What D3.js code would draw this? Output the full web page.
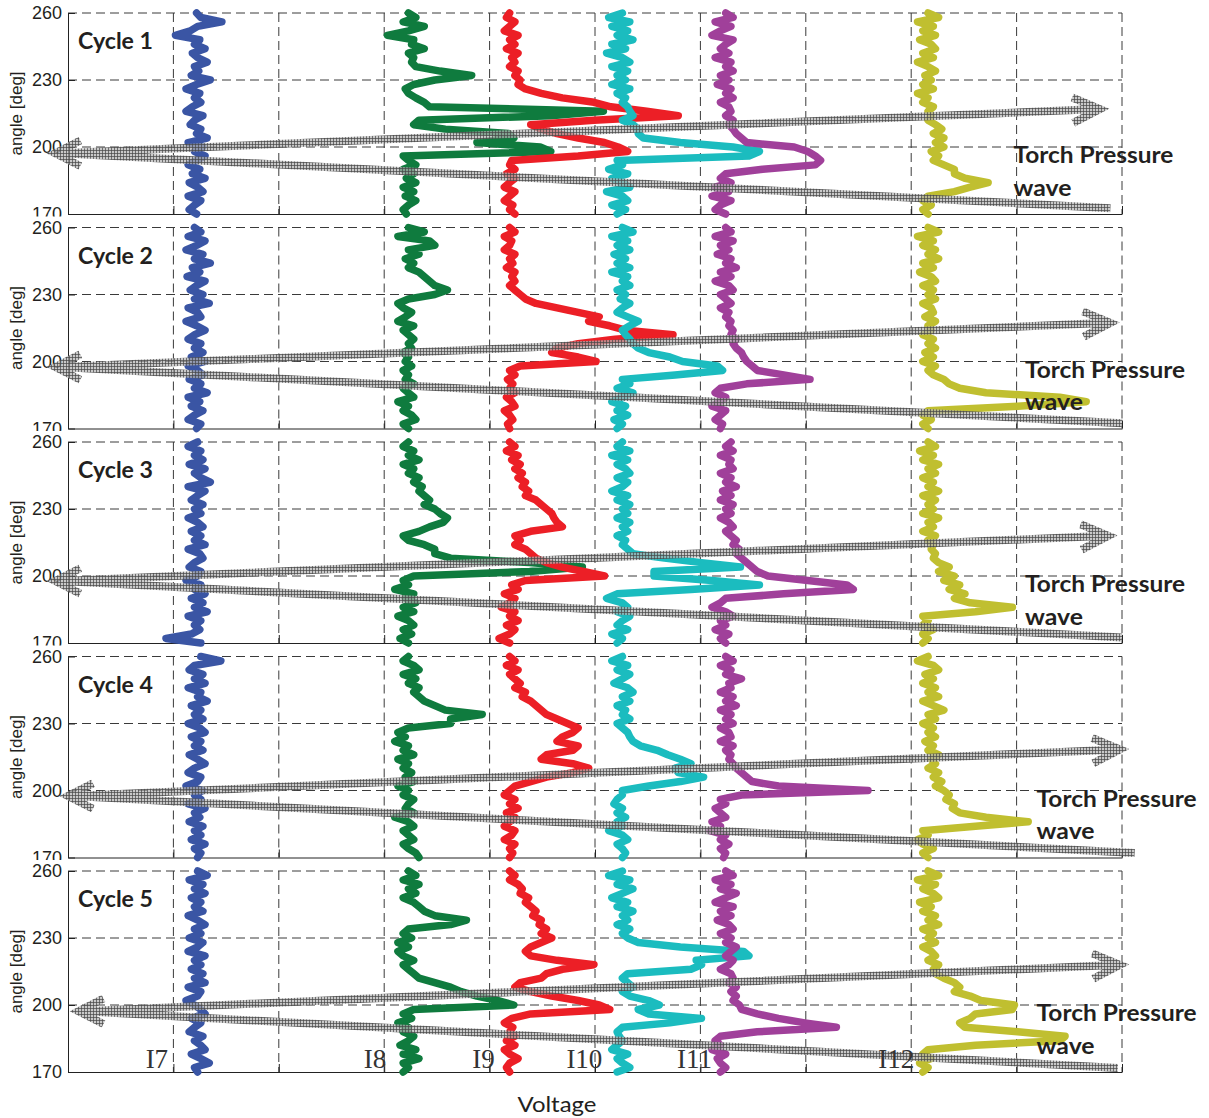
<!DOCTYPE html>
<html>
<head>
<meta charset="utf-8">
<script src="https://cdn.jsdelivr.net/npm/d3@7"></script>
<style>
  html, body { margin: 0; padding: 0; background: #fff; }
  svg { display: block; }
</style>
</head>
<body>
<svg id="chart" width="1209" height="1118"></svg>
<script>
// ---------------------------------------------------------------
// Data
// ---------------------------------------------------------------
// Crank-angle grid shared by every trace (deg), from 260 down to 170
const angles = d3.range(260, 169, -2);

const cycleNames = ["Cycle 1", "Cycle 2", "Cycle 3", "Cycle 4", "Cycle 5"];
const channelNames = ["I7", "I8", "I9", "I10", "I11", "I12"];
const channelColors = ["#3a55a4", "#0f7b3e", "#ec1f26", "#1bbcbf", "#a0409a", "#c0bf30"];
// voltage offset of each ion-current channel (traces are stacked side by side)
const channelOffset = [1.20, 3.18, 4.19, 5.21, 6.19, 8.11];
const yTicks = [170, 200, 230, 260];
const xGridValues = [0, 1, 2, 3, 4, 5, 6, 7, 8, 9, 10];

// Voltage signal per channel, one row per cycle, sampled on `angles`
const voltsI7 = [
  [0.02, 0.06, 0.26, 0.03, -0.04, -0.18, 0.05, 0.00, 0.10, -0.02,
   0.03, 0.12, 0.00, 0.04, -0.03, 0.15, 0.02, -0.08, 0.05, 0.00,
   0.06, -0.02, -0.08, 0.08, 0.00, -0.04, 0.06, 0.02, 0.12, -0.06,
   0.08, 0.00, 0.10, 0.02, -0.06, 0.05, -0.02, 0.10, -0.05, 0.03,
   0.08, -0.06, 0.06, 0.00, -0.05, 0.02],
  [0.00, 0.06, -0.06, 0.10, 0.02, -0.08, 0.08, 0.00, 0.15, -0.02,
   0.05, -0.07, 0.10, 0.02, -0.04, 0.08, 0.00, 0.14, -0.06, 0.03,
   0.06, -0.08, 0.02, 0.10, 0.00, -0.06, 0.06, 0.00, 0.08, -0.03,
   0.10, -0.06, 0.03, 0.08, -0.05, 0.06, 0.00, 0.12, -0.06, 0.05,
   -0.03, 0.08, 0.00, -0.06, 0.06, 0.02],
  [0.03, -0.06, 0.06, 0.00, 0.08, -0.05, 0.10, 0.00, 0.06, 0.15,
   -0.06, 0.10, 0.03, -0.03, 0.08, 0.00, 0.06, -0.06, 0.03, 0.08,
   -0.03, 0.06, 0.00, 0.10, -0.06, 0.05, 0.08, 0.00, -0.05, 0.06,
   0.03, -0.08, 0.06, 0.00, 0.10, -0.03, 0.08, 0.00, 0.12, -0.06,
   0.06, 0.00, 0.05, -0.03, -0.27, 0.06],
  [0.06, 0.25, 0.00, -0.05, 0.08, 0.00, 0.10, -0.06, 0.06, 0.03,
   0.12, -0.03, 0.06, 0.00, 0.08, -0.06, 0.05, 0.10, -0.03, 0.06,
   0.00, 0.08, -0.05, 0.03, 0.10, 0.00, -0.06, 0.06, 0.03, -0.08,
   0.08, 0.00, 0.06, -0.06, 0.10, 0.00, 0.05, -0.05, 0.08, 0.00,
   0.06, -0.03, 0.10, 0.00, 0.06, 0.03],
  [0.03, 0.12, -0.05, 0.08, 0.00, 0.10, -0.03, 0.06, 0.00, 0.08,
   -0.06, 0.03, 0.10, 0.00, 0.06, -0.05, 0.08, 0.03, -0.06, 0.10,
   0.00, 0.06, -0.03, 0.08, 0.00, 0.10, -0.06, 0.06, 0.03, -0.08,
   0.00, 0.06, 0.10, -0.03, 0.06, 0.00, -0.05, 0.08, 0.00, 0.06,
   0.10, -0.03, 0.06, 0.14, 0.00, 0.03]
];

const voltsI8 = [
  [0.05, 0.12, 0.00, 0.20, 0.05, -0.15, 0.10, 0.08, 0.20, 0.05,
   0.10, 0.08, 0.12, 0.35, 0.65, 0.30, 0.10, 0.02, 0.05, 0.12,
   0.20, 0.25, 1.90, 1.40, 0.15, 0.10, 0.40, 1.00, 1.05, 0.70,
   1.30, 1.40, 0.00, 0.05, 0.12, 0.00, 0.10, 0.03, 0.12, 0.00,
   0.10, 0.02, 0.12, 0.05, 0.00, 0.03],
  [0.05, 0.20, -0.05, 0.25, 0.30, 0.05, 0.15, 0.02, 0.10, 0.05,
   0.15, 0.20, 0.25, 0.30, 0.42, 0.30, 0.05, -0.05, 0.00, 0.08,
   0.02, -0.05, 0.10, 0.00, 0.05, 0.10, 0.05, 0.08, 0.00, 0.05,
   0.02, 0.08, 0.00, 0.05, 0.02, 0.10, 0.00, 0.05, 0.10, -0.05,
   0.05, 0.00, 0.08, 0.12, 0.00, 0.05],
  [0.05, 0.00, 0.10, 0.05, 0.15, 0.00, 0.10, 0.05, 0.15, 0.10,
   0.18, 0.15, 0.20, 0.25, 0.20, 0.30, 0.35, 0.42, 0.38, 0.25,
   0.15, 0.00, 0.05, 0.20, 0.30, 0.30, 0.45, 1.20, 1.70, 1.20,
   0.10, 0.00, 0.05, -0.08, 0.10, 0.02, 0.12, 0.00, 0.10, -0.05,
   0.05, 0.10, 0.00, 0.08, -0.03, 0.05],
  [0.05, 0.00, 0.10, 0.15, 0.00, 0.12, 0.05, 0.15, 0.10, 0.15,
   0.20, 0.30, 0.40, 0.75, 0.45, 0.45, 0.05, -0.05, 0.02, -0.08,
   0.05, 0.00, 0.10, -0.05, 0.05, 0.00, 0.08, 0.02, 0.10, -0.05,
   0.05, 0.00, 0.10, 0.05, 0.02, 0.10, -0.08, 0.05, 0.10, 0.00,
   0.05, 0.10, 0.00, 0.05, 0.12, 0.15],
  [0.05, 0.12, 0.00, 0.15, 0.05, 0.12, 0.00, 0.10, 0.15, 0.20,
   0.30, 0.60, 0.45, 0.05, 0.00, 0.08, -0.05, 0.05, -0.05, 0.00,
   0.10, 0.00, 0.05, 0.10, 0.15, 0.30, 0.45, 0.55, 0.70, 0.90,
   1.05, 0.10, 0.00, 0.08, -0.05, 0.05, 0.00, 0.10, 0.05, -0.03,
   0.12, 0.00, 0.15, 0.00, 0.05, 0.00]
];

const voltsI9 = [
  [0.00, -0.03, 0.05, 0.00, -0.05, 0.08, 0.00, 0.05, -0.03, 0.08,
   0.02, 0.05, 0.00, 0.08, 0.05, 0.10, 0.08, 0.15, 0.30, 0.50,
   0.80, 0.96, 1.30, 1.60, 0.80, 0.20, 0.30, 0.45, 0.65, 0.90,
   1.03, 1.12, 0.65, 0.02, 0.00, 0.05, -0.03, 0.05, 0.00, -0.05,
   0.05, 0.00, -0.05, 0.03, 0.00, 0.05],
  [0.00, 0.05, -0.05, 0.02, 0.00, -0.05, 0.05, 0.00, 0.03, -0.03,
   0.05, 0.02, 0.05, 0.00, 0.05, 0.10, 0.15, 0.25, 0.45, 0.65,
   0.85, 0.75, 0.95, 1.10, 1.55, 1.00, 0.65, 0.45, 0.40, 0.65,
   0.82, 0.10, 0.00, 0.05, -0.02, 0.03, 0.00, 0.05, -0.03, 0.02,
   0.05, -0.05, 0.00, 0.03, -0.02, 0.00],
  [0.00, 0.05, -0.03, 0.08, 0.02, 0.10, 0.05, 0.12, 0.08, 0.15,
   0.12, 0.18, 0.15, 0.25, 0.30, 0.35, 0.40, 0.42, 0.45, 0.50,
   0.20, 0.05, 0.10, 0.05, 0.15, 0.20, 0.25, 0.35, 0.50, 0.70,
   0.90, 0.15, 0.02, 0.08, -0.05, 0.05, 0.00, -0.08, 0.05, 0.00,
   0.08, -0.03, 0.05, 0.00, -0.10, 0.00],
  [0.00, 0.05, -0.03, 0.08, 0.00, 0.05, 0.10, 0.05, 0.15, 0.12,
   0.20, 0.25, 0.30, 0.35, 0.45, 0.55, 0.65, 0.60, 0.50, 0.45,
   0.65, 0.60, 0.35, 0.30, 0.60, 0.75, 0.60, 0.35, 0.20, 0.05,
   0.00, -0.05, 0.05, 0.00, 0.08, -0.03, 0.05, 0.00, -0.05, 0.05,
   0.02, -0.05, 0.05, 0.00, 0.03, 0.00],
  [0.00, 0.05, 0.00, 0.08, 0.12, 0.10, 0.18, 0.15, 0.20, 0.25,
   0.22, 0.30, 0.28, 0.35, 0.30, 0.40, 0.30, 0.20, 0.15, 0.20,
   0.45, 0.80, 0.50, 0.35, 0.30, 0.10, 0.05, 0.20, 0.40, 0.65,
   0.85, 0.95, 0.20, 0.02, -0.05, 0.03, 0.00, 0.05, -0.03, 0.05,
   -0.05, 0.00, 0.08, 0.00, -0.03, 0.00]
];

const voltsI10 = [
  [0.05, -0.08, 0.12, -0.05, 0.10, 0.00, 0.15, -0.05, 0.08, -0.10,
   0.05, 0.12, -0.05, 0.10, 0.00, 0.08, -0.05, 0.12, 0.00, 0.08,
   0.05, 0.10, 0.12, 0.15, 0.05, 0.15, 0.20, 0.20, 0.25, 0.60,
   1.10, 1.35, 1.25, 0.00, 0.05, -0.08, 0.10, -0.05, 0.05, 0.12,
   -0.10, 0.05, 0.10, -0.05, 0.08, 0.00],
  [0.05, 0.15, -0.05, 0.10, 0.00, 0.12, -0.03, 0.08, 0.00, 0.12,
   -0.05, 0.10, 0.05, 0.12, 0.00, 0.08, 0.03, 0.12, 0.05, 0.00,
   0.10, 0.20, 0.12, 0.05, 0.08, 0.12, 0.15, 0.20, 0.30, 0.50,
   0.62, 0.95, 1.00, 0.55, 0.05, 0.12, 0.00, 0.15, 0.05, -0.05,
   0.08, 0.00, 0.10, -0.03, 0.05, 0.00],
  [0.05, 0.00, 0.12, -0.05, 0.10, 0.00, 0.08, 0.12, 0.00, 0.10,
   0.05, -0.05, 0.10, 0.00, 0.12, 0.05, 0.10, 0.00, 0.12, 0.05,
   0.10, 0.00, 0.08, 0.05, 0.10, 0.15, 0.45, 0.80, 1.17, 0.35,
   0.35, 0.90, 1.35, 0.70, 0.00, -0.10, 0.05, 0.10, 0.00, 0.12,
   0.05, 0.00, 0.10, -0.05, 0.05, 0.00],
  [0.05, -0.05, 0.10, 0.00, 0.12, 0.05, -0.03, 0.10, 0.15, 0.05,
   0.12, 0.00, 0.08, 0.05, 0.12, 0.00, 0.05, 0.10, 0.12, 0.15,
   0.22, 0.38, 0.48, 0.60, 0.70, 0.55, 0.58, 0.82, 0.60, 0.30,
   0.05, 0.05, 0.00, -0.03, 0.05, 0.00, 0.08, 0.00, 0.05, -0.08,
   0.05, 0.10, 0.00, 0.05, 0.08, 0.05],
  [0.05, -0.08, 0.12, 0.00, 0.15, 0.05, -0.05, 0.10, 0.00, 0.15,
   0.05, 0.10, 0.00, 0.12, 0.05, 0.10, 0.20, 0.60, 1.20, 1.25,
   0.75, 0.80, 0.70, 0.10, 0.05, 0.10, 0.15, 0.05, 0.12, 0.30,
   0.40, 0.20, 0.30, 0.80, 0.50, 0.05, 0.00, 0.02, 0.05, 0.00,
   -0.05, 0.10, 0.00, 0.05, 0.12, 0.00]
];

const voltsI11 = [
  [0.05, 0.12, -0.05, 0.10, 0.00, -0.08, 0.12, 0.05, 0.00, 0.08,
   -0.05, 0.10, 0.05, 0.12, 0.00, 0.08, -0.03, 0.10, 0.05, 0.12,
   0.00, 0.08, 0.10, 0.05, 0.12, 0.08, 0.12, 0.15, 0.20, 0.25,
   0.70, 0.83, 0.90, 0.95, 0.90, 0.40, 0.05, 0.00, 0.10, -0.05,
   0.08, -0.08, 0.10, 0.00, -0.05, 0.05],
  [0.05, 0.10, -0.05, 0.12, 0.00, 0.08, -0.03, 0.10, 0.05, 0.15,
   0.00, 0.10, -0.05, 0.08, 0.12, 0.00, 0.05, 0.10, 0.00, 0.08,
   0.05, 0.10, 0.08, 0.12, 0.10, 0.15, 0.12, 0.15, 0.20, 0.22,
   0.25, 0.30, 0.35, 0.60, 0.85, 0.25, 0.00, -0.05, 0.05, 0.00,
   -0.08, 0.05, 0.00, -0.05, 0.02, 0.00],
  [0.10, 0.05, 0.12, 0.00, 0.10, 0.08, 0.12, 0.00, 0.10, 0.05,
   0.15, 0.02, 0.10, 0.00, 0.12, 0.05, 0.10, 0.00, 0.08, 0.12,
   0.05, 0.10, 0.15, 0.12, 0.18, 0.15, 0.20, 0.25, 0.30, 0.35,
   0.45, 0.83, 1.20, 1.26, 0.60, 0.05, 0.00, -0.08, 0.05, 0.12,
   0.00, 0.05, -0.05, 0.08, 0.00, 0.05],
  [0.05, 0.12, 0.00, 0.10, 0.05, 0.20, 0.08, 0.10, 0.00, 0.12,
   0.05, 0.15, 0.00, 0.10, 0.05, 0.12, 0.00, 0.08, 0.10, 0.00,
   0.12, 0.05, 0.10, 0.08, 0.12, 0.15, 0.20, 0.25, 0.30, 0.55,
   1.40, 0.20, 0.00, 0.05, -0.05, 0.00, 0.05, -0.08, 0.00, -0.10,
   0.05, 0.00, 0.08, 0.00, 0.05, 0.03],
  [0.05, 0.12, -0.05, 0.10, 0.00, 0.15, 0.05, -0.05, 0.12, 0.00,
   0.10, -0.03, 0.08, 0.12, 0.00, 0.10, 0.05, 0.15, 0.10, 0.05,
   0.12, 0.08, 0.00, 0.10, 0.12, 0.08, 0.15, 0.10, 0.15, 0.12,
   0.18, 0.20, 0.35, 0.55, 0.80, 1.10, 0.35, 0.00, -0.05, 0.00,
   -0.08, 0.05, -0.03, 0.00, 0.05, 0.00]
];

const voltsI12 = [
  [0.05, 0.15, -0.05, 0.10, 0.00, 0.12, -0.03, 0.08, 0.12, 0.00,
   0.10, -0.05, 0.05, 0.12, 0.02, 0.08, 0.00, 0.10, -0.05, 0.05,
   0.00, 0.10, 0.05, 0.08, 0.05, 0.12, 0.18, 0.10, 0.20, 0.12,
   0.20, 0.08, 0.15, 0.10, 0.20, 0.30, 0.30, 0.40, 0.62, 0.45,
   0.30, 0.05, 0.00, 0.08, 0.00, 0.05],
  [0.05, 0.15, -0.05, 0.10, 0.00, 0.12, 0.05, 0.15, 0.00, 0.10,
   -0.03, 0.08, 0.12, 0.00, 0.10, 0.05, 0.12, 0.00, 0.08, 0.10,
   0.02, 0.12, 0.05, 0.08, 0.00, 0.10, 0.05, 0.12, 0.02, 0.10,
   0.00, 0.12, 0.05, 0.10, 0.20, 0.25, 0.35, 0.60, 1.30, 1.55,
   0.90, 0.05, 0.00, 0.08, 0.00, 0.05],
  [0.05, 0.12, -0.03, 0.10, 0.00, 0.15, 0.05, 0.12, 0.00, 0.10,
   0.05, 0.15, 0.00, 0.12, 0.05, 0.10, 0.00, 0.15, 0.05, 0.10,
   0.00, 0.12, 0.05, 0.10, 0.08, 0.12, 0.10, 0.15, 0.25, 0.15,
   0.30, 0.20, 0.35, 0.25, 0.40, 0.30, 0.45, 0.85, 0.50, 0.00,
   0.05, 0.00, 0.10, 0.00, 0.05, 0.00],
  [0.05, -0.05, 0.10, 0.15, 0.02, 0.10, 0.00, 0.12, 0.05, 0.15,
   0.00, 0.10, 0.20, 0.05, 0.12, 0.00, 0.10, 0.05, 0.12, 0.02,
   0.10, 0.05, 0.15, 0.08, 0.12, 0.05, 0.15, 0.10, 0.18, 0.12,
   0.20, 0.25, 0.22, 0.30, 0.28, 0.35, 0.60, 1.00, 0.50, 0.00,
   0.05, -0.05, 0.00, 0.10, 0.00, 0.05],
  [0.05, 0.15, -0.05, 0.12, 0.00, 0.10, 0.15, -0.03, 0.08, 0.00,
   0.12, 0.05, 0.15, 0.00, 0.10, 0.05, 0.12, 0.00, 0.08, 0.12,
   0.05, 0.15, 0.10, 0.12, 0.20, 0.30, 0.35, 0.30, 0.45, 0.55,
   0.87, 0.85, 0.50, 0.45, 0.35, 0.40, 0.90, 1.35, 1.30, 0.50,
   0.05, 0.00, 0.08, -0.03, 0.05, 0.00]
];

const channelVolts = [voltsI7, voltsI8, voltsI9, voltsI10, voltsI11, voltsI12];

// Torch pressure wave arrows, per cycle: tail tip, upper (right-pointing) head, lower end
const arrowTailV = [-0.12, -0.12, -0.12, 0.00, 0.10];
const arrowTailA = [197.2, 197.5, 197.8, 197.5, 197.2];
const arrowHeadV = [9.79, 9.89, 9.87, 9.98, 9.98];
const arrowHeadA = [217.0, 217.3, 218.0, 218.4, 218.0];
const arrowEndV = [9.89, 10.00, 10.00, 10.12, 9.96];
const arrowEndA = [172.6, 172.3, 172.5, 172.0, 171.8];

// ---------------------------------------------------------------
// Layout
// ---------------------------------------------------------------
const svg = d3.select("#chart");
const plotLeft = 68, plotRight = 1122;
const panelTop0 = 13, panelStep = 214.5, panelH = 201;

const x = d3.scaleLinear().domain([0, 10]).range([plotLeft, plotRight]);

const textDark = "#231f20";
const gridColor = "#3a3a3a";

const defs = svg.append("defs");
// fine cross-hatch used for the pressure-wave arrows
const hatch = defs.append("pattern")
  .attr("id", "hatch")
  .attr("patternUnits", "userSpaceOnUse")
  .attr("width", 3).attr("height", 3);
hatch.append("rect").attr("width", 3).attr("height", 3).attr("fill", "rgba(178,178,178,0.7)");
hatch.append("path").attr("d", "M0,0.5H3M0.5,0V3")
  .attr("stroke", "rgba(70,70,70,0.7)").attr("stroke-width", 1).attr("fill", "none");

const line = d3.line()
  .x(d => x(d.v))
  .y(d => d.y);

cycleNames.forEach((name, i) => {
  const top = panelTop0 + i * panelStep;
  const bottom = top + panelH;
  const y = d3.scaleLinear().domain([170, 260]).range([bottom, top]);
  const g = svg.append("g").attr("class", "panel");

  // grid
  g.append("g").selectAll("line.vg")
    .data(xGridValues.slice(1))
    .join("line")
    .attr("x1", d => x(d)).attr("x2", d => x(d))
    .attr("y1", top).attr("y2", bottom)
    .attr("stroke", gridColor).attr("stroke-width", 1)
    .attr("stroke-dasharray", "9,5");
  g.append("g").selectAll("line.hg")
    .data(yTicks.slice(1))
    .join("line")
    .attr("x1", plotLeft).attr("x2", plotRight)
    .attr("y1", d => y(d)).attr("y2", d => y(d))
    .attr("stroke", gridColor).attr("stroke-width", 1)
    .attr("stroke-dasharray", "9,5");

  // axes
  const yAxis = g.append("g")
    .attr("transform", `translate(${plotLeft},0)`)
    .call(d3.axisLeft(y).tickValues(yTicks).tickSizeInner(-7).tickSizeOuter(0).tickPadding(6).tickFormat(d3.format("d")));
  yAxis.select(".domain").attr("stroke", "#222");
  yAxis.selectAll(".tick line").attr("stroke", "#222");
  yAxis.selectAll(".tick text")
    .attr("x", -6)
    .attr("fill", textDark)
    .style("font-family", "'Liberation Sans', Arial, sans-serif")
    .style("font-size", "18px");

  if (i < cycleNames.length - 1) {
    // the lower tick label is partly hidden behind the next panel
    const clipId = "clip170-" + i;
    defs.append("clipPath").attr("id", clipId)
      .append("rect").attr("x", -80).attr("y", -30).attr("width", 80).attr("height", 32);
    yAxis.selectAll(".tick").filter(d => d === 170).select("text")
      .attr("clip-path", `url(#${clipId})`);
  }

  const xAxis = g.append("g")
    .attr("transform", `translate(0,${bottom})`)
    .call(d3.axisBottom(x).tickValues(xGridValues).tickSizeInner(-8).tickSizeOuter(0).tickFormat(""));
  xAxis.select(".domain").attr("stroke", "#222");
  xAxis.selectAll(".tick line").attr("stroke", "#222");

  g.append("text")
    .attr("transform", `translate(22,${(top + bottom) / 2}) rotate(-90)`)
    .attr("text-anchor", "middle")
    .attr("fill", textDark)
    .style("font-family", "'Liberation Sans', Arial, sans-serif")
    .style("font-size", "17px")
    .text("angle [deg]");

  // ion-current traces
  channelVolts.forEach((series, k) => {
    const vals = series[i];
    const pts = angles.map((a, j) => ({ v: channelOffset[k] + vals[j], y: y(a) }));
    g.append("path")
      .attr("d", line(pts))
      .attr("fill", "none")
      .attr("stroke", channelColors[k])
      .attr("stroke-width", 7.5)
      .attr("stroke-linejoin", "round")
      .attr("stroke-linecap", "round");
  });

  // pressure-wave arrows
  const tail = [x(arrowTailV[i]), y(arrowTailA[i])];
  const head = [x(arrowHeadV[i]), y(arrowHeadA[i])];
  const end = [x(arrowEndV[i]), y(arrowEndA[i])];
  const rot = (v, ang) => [v[0] * Math.cos(ang) - v[1] * Math.sin(ang), v[0] * Math.sin(ang) + v[1] * Math.cos(ang)];
  const armL = 28, armR = 30;
  const la = 27 * Math.PI / 180, ra = 25 * Math.PI / 180;
  const l1 = rot([armL, 0], -la), l2 = rot([armL, 0], la);
  const dx = tail[0] - head[0], dy = tail[1] - head[1];
  const dl = Math.hypot(dx, dy);
  const back = [dx / dl * armR, dy / dl * armR];
  const r1 = rot(back, -ra), r2 = rot(back, ra);
  const p = d3.path();
  p.moveTo(tail[0] + 6, tail[1]); p.lineTo(head[0] - 2, head[1]);
  p.moveTo(tail[0] + 6, tail[1]); p.lineTo(end[0], end[1]);
  p.moveTo(tail[0] + l1[0], tail[1] + l1[1]); p.lineTo(tail[0], tail[1]); p.lineTo(tail[0] + l2[0], tail[1] + l2[1]);
  p.moveTo(head[0] + r1[0], head[1] + r1[1]); p.lineTo(head[0], head[1]); p.lineTo(head[0] + r2[0], head[1] + r2[1]);
  g.append("path")
    .attr("d", p.toString())
    .attr("fill", "none")
    .attr("stroke", "url(#hatch)")
    .attr("stroke-width", 8)
    .attr("stroke-linejoin", "miter")
    .attr("stroke-linecap", "butt");
});

// ---------------------------------------------------------------
// Annotations
// ---------------------------------------------------------------
const labelCycleV = 0.095, labelCycleA = 243.7;
const torchV = [8.97, 9.08, 9.08, 9.19, 9.19];
const torchLine1A = 192.8, torchLine2A = 178.2;
const channelLabelV = [0.95, 3.02, 4.05, 5.07, 6.11, 8.03];

cycleNames.forEach((name, i) => {
  const top = panelTop0 + i * panelStep;
  const y = d3.scaleLinear().domain([170, 260]).range([top + panelH, top]);
  svg.append("text")
    .attr("x", x(labelCycleV)).attr("y", y(labelCycleA))
    .attr("fill", textDark)
    .attr("textLength", 75).attr("lengthAdjust", "spacingAndGlyphs")
    .style("font-family", "Lato, 'Open Sans', sans-serif")
    .style("font-weight", "700")
    .style("font-size", "22px")
    .text(name);
  svg.append("text")
    .attr("x", x(torchV[i])).attr("y", y(torchLine1A))
    .attr("fill", textDark)
    .attr("textLength", 160).attr("lengthAdjust", "spacingAndGlyphs")
    .style("font-family", "Lato, 'Open Sans', sans-serif")
    .style("font-weight", "700")
    .style("font-size", "23px")
    .text("Torch Pressure");
  svg.append("text")
    .attr("x", x(torchV[i])).attr("y", y(torchLine2A))
    .attr("fill", textDark)
    .attr("textLength", 58).attr("lengthAdjust", "spacingAndGlyphs")
    .style("font-family", "Lato, 'Open Sans', sans-serif")
    .style("font-weight", "700")
    .style("font-size", "23px")
    .text("wave");
});

// channel names along the bottom panel
{
  const i = cycleNames.length - 1;
  const top = panelTop0 + i * panelStep;
  const y = d3.scaleLinear().domain([170, 260]).range([top + panelH, top]);
  svg.append("g").selectAll("text")
    .data(channelNames)
    .join("text")
    .attr("x", (d, k) => x(channelLabelV[k]))
    .attr("y", y(172))
    .attr("text-anchor", "end")
    .attr("fill", "#333")
    .style("font-family", "'Liberation Serif', 'DejaVu Serif', serif")
    .style("font-size", "27px")
    .text(d => d);
}

svg.append("text")
  .attr("x", 557).attr("y", 1112)
  .attr("text-anchor", "middle")
  .attr("fill", textDark)
  .attr("textLength", 79).attr("lengthAdjust", "spacingAndGlyphs")
  .style("font-family", "Lato, 'Open Sans', sans-serif")
  .style("font-size", "22px")
  .text("Voltage");
</script>
</body>
</html>
